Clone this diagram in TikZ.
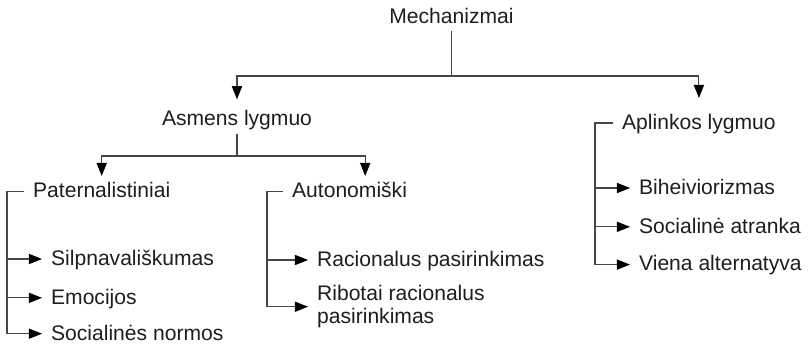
\documentclass[tikz,border=0pt]{standalone}
\usepackage{fontspec}
\setmainfont{Liberation Sans}
\usepackage{xcolor}
\usepackage{tikz}
\usetikzlibrary{arrows.meta}
\usetikzlibrary{positioning, calc}
\definecolor{txtgray}{RGB}{30,30,30}
\definecolor{linegray}{RGB}{70,70,70}
\tikzset{
    lbl/.style = {inner sep=0pt, text=txtgray,
        font=\fontsize{12}{14.5}\selectfont},
    head/.style = {lbl, anchor=base, text height=0.72em, text depth=0.2em},
    branch/.style = {lbl, inner xsep=5pt, anchor=west,
        text height=0.72em, text depth=0pt},
    twoline/.style = {lbl, inner xsep=5pt, anchor=west, align=left,
        font=\fontsize{12}{13}\selectfont},
    link/.style = {draw=linegray, line width=0.6pt},
}

\begin{document}
\begin{tikzpicture}[x=0.02cm, y=-0.02cm,
        >={Triangle[length=7.5pt,width=5.8pt,color=black]}]
        \useasboundingbox (0,0) rectangle (810,345);
        % heads
        \node (mech) [head] at (451.5,23) {Mechanizmai};
        \node (asm) [head] at (237,125) {Asmens lygmuo};
        \node (apl) [branch] at (613,123) {Aplinkos lygmuo};
        \node (pat) [branch] at (24,191.3) {Paternalistiniai};
        \node (aut) [branch] at (283,191.3) {Autonomiški};
        % leaves
        \node (silp) [branch] at (42,259) {Silpnavališkumas};
        \node (emo) [branch, below=22.1pt of silp.west, anchor=west] {Emocijos};
        \node (soc) [branch, below=20.4pt of emo.west, anchor=west] {Socialinės normos};
        \node (raci) [branch] at (308,260) {Racionalus pasirinkimas};
        \node (ribo) [twoline, below=26.6pt of raci.west, anchor=west] {Ribotai racionalus\\pasirinkimas};
        \node (bihe) [branch] at (630,188) {Biheiviorizmas};
        \node (sela) [branch, below=22.1pt of bihe.west, anchor=west] {Socialinė atranka};
        \node (vien) [branch, below=21.5pt of sela.west, anchor=west] {Viena alternatyva};

        % tree
        \coordinate (mjoin) at (451.5,76);
        \coordinate (ajoin) at (237,156);
        \draw[link] ([yshift=-2.5pt]mech.south) -- (mjoin);
        \draw[link,->] (mjoin) -| ([yshift=7.2pt]asm.north);
        \draw[link,->] (mjoin) -| ([yshift=10.4pt]apl.north);
        \draw[link] ([yshift=-3.2pt]asm.south) -- (ajoin);
        \draw[link,->] (ajoin) -| ([yshift=4.9pt]pat.north);
        \draw[link,->] (ajoin) -| ([xshift=8.9pt,yshift=4.9pt]aut.north);

        % brackets
        \draw[link,->] (pat.west) -- ++(-17,0) coordinate (pbar) |- (soc.west);
        \foreach \n in {silp,emo}
            \draw[link,->] (pbar |- \n.west) -- (\n.west);
        \draw[link,->] (aut.west) -- ++(-16,0) coordinate (abar) |- (ribo.west);
        \draw[link,->] (abar |- raci.west) -- (raci.west);
        \draw[link,->] (apl.west) -- ++(-18,0) coordinate (lbar) |- (vien.west);
        \foreach \n in {bihe,sela}
            \draw[link,->] (lbar |- \n.west) -- (\n.west);
\end{tikzpicture}
\end{document}
